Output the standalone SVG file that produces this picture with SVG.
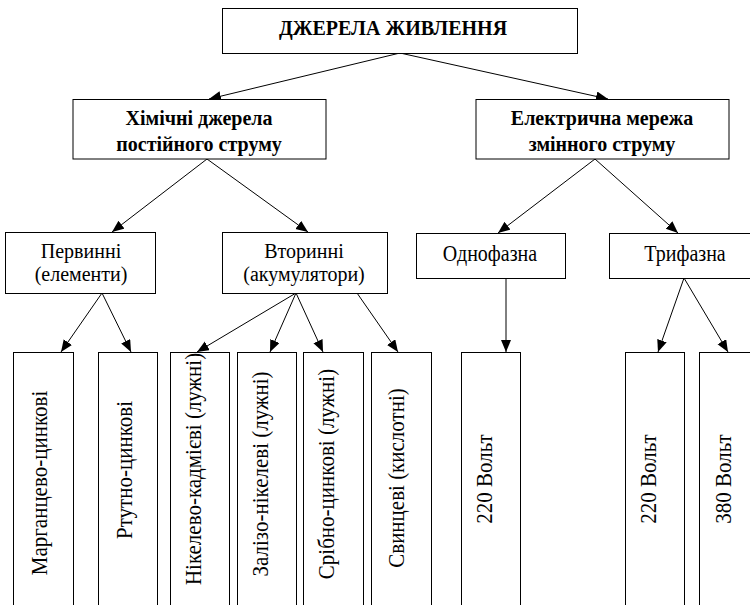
<svg xmlns="http://www.w3.org/2000/svg" width="750" height="605" viewBox="0 0 750 605">
<style>
.box{fill:#fff;stroke:#000;stroke-width:1}
.t{font-family:"Liberation Serif","Times New Roman",serif;font-size:20px;fill:#000;text-anchor:middle}
.r{font-size:21px}
.b{font-weight:bold;font-size:20px}
.c{stroke:#000;stroke-width:1;fill:none;marker-end:url(#ah)}
</style>
<defs>
<marker id="ah" markerUnits="userSpaceOnUse" markerWidth="13" markerHeight="11" refX="12" refY="5" orient="auto">
<path d="M0,0 L12,5 L0,10 z" fill="#000"/>
</marker>
</defs>
<rect width="750" height="605" fill="#fff"/>
<g id="connectors">
<line class="c" x1="400" y1="53" x2="209" y2="99"/>
<line class="c" x1="400" y1="53" x2="608" y2="99"/>
<line class="c" x1="207" y1="159" x2="112" y2="232"/>
<line class="c" x1="207" y1="159" x2="308" y2="232"/>
<line class="c" x1="595" y1="159" x2="498" y2="233"/>
<line class="c" x1="595" y1="159" x2="678" y2="233"/>
<line class="c" x1="102" y1="293" x2="61" y2="352"/>
<line class="c" x1="102" y1="293" x2="131" y2="352"/>
<line class="c" x1="296" y1="293" x2="197" y2="352"/>
<line class="c" x1="296" y1="293" x2="270" y2="352"/>
<line class="c" x1="296" y1="293" x2="323" y2="352"/>
<line class="c" x1="357" y1="293" x2="398" y2="352"/>
<line class="c" x1="506" y1="278" x2="506" y2="352"/>
<line class="c" x1="684" y1="278" x2="658" y2="352"/>
<line class="c" x1="684" y1="278" x2="728" y2="352"/>
</g>
<g id="root">
<rect class="box" x="222.5" y="8.5" width="355" height="45"/>
<text class="t b" transform="translate(393,35) scale(1,1.05)">ДЖЕРЕЛА ЖИВЛЕННЯ</text>
</g>
<g id="chem">
<rect class="box" x="73" y="99.5" width="253" height="59.5"/>
<text class="t b" transform="translate(199,125) scale(1,1.05)">Хімічні джерела</text>
<text class="t b" transform="translate(199,151) scale(1,1.05)">постійного струму</text>
</g>
<g id="grid">
<rect class="box" x="476" y="99.5" width="253" height="59.5"/>
<text class="t b" transform="translate(602,125) scale(1,1.05)">Електрична мережа</text>
<text class="t b" transform="translate(602,151) scale(1,1.05)">змінного струму</text>
</g>
<g id="primary">
<rect class="box" x="5.5" y="232.5" width="150" height="61"/>
<text class="t" x="81" y="257.5">Первинні</text>
<text class="t" x="81" y="280.5">(елементи)</text>
</g>
<g id="secondary">
<rect class="box" x="222.5" y="232.5" width="165" height="61"/>
<text class="t" x="304" y="257.5">Вторинні</text>
<text class="t" x="304" y="280.5">(акумулятори)</text>
</g>
<g id="single">
<rect class="box" x="416.5" y="233.5" width="149" height="45"/>
<text class="t" transform="translate(490,261) scale(1,1.13)">Однофазна</text>
</g>
<g id="three">
<rect class="box" x="609.5" y="233.5" width="160" height="45"/>
<text class="t" transform="translate(685,261) scale(1,1.13)">Трифазна</text>
</g>
<g id="mn">
<rect class="box" x="13.5" y="352.5" width="60" height="270"/>
<text class="t r" transform="translate(47,483) rotate(-90) scale(1,1.08)">Марганцево-цинкові</text>
</g>
<g id="hg">
<rect class="box" x="98.5" y="352.5" width="59" height="270"/>
<text class="t r" transform="translate(132,470) rotate(-90) scale(1,1.08)">Ртутно-цинкові</text>
</g>
<g id="nicd">
<rect class="box" x="170.5" y="352.5" width="59" height="270"/>
<text class="t r" transform="translate(201,469) rotate(-90) scale(1,1.08)">Нікелево-кадмієві (лужні)</text>
</g>
<g id="feni">
<rect class="box" x="237.5" y="352.5" width="59" height="270"/>
<text class="t r" transform="translate(268,474) rotate(-90) scale(1,1.08)">Залізо-нікелеві (лужні)</text>
</g>
<g id="agzn">
<rect class="box" x="303.5" y="352.5" width="60" height="270"/>
<text class="t r" transform="translate(334,474) rotate(-90) scale(1,1.08)">Срібно-цинкові (лужні)</text>
</g>
<g id="pb">
<rect class="box" x="371.5" y="352.5" width="60" height="270"/>
<text class="t r" transform="translate(404,478) rotate(-90) scale(1,1.08)">Свинцеві (кислотні)</text>
</g>
<g id="v220a">
<rect class="box" x="461.5" y="352.5" width="59" height="270"/>
<text class="t r" transform="translate(492,479) rotate(-90) scale(1,1.08)">220 Вольт</text>
</g>
<g id="v220b">
<rect class="box" x="625.5" y="352.5" width="59" height="270"/>
<text class="t r" transform="translate(656,479) rotate(-90) scale(1,1.08)">220 Вольт</text>
</g>
<g id="v380">
<rect class="box" x="699.5" y="352.5" width="60" height="270"/>
<text class="t r" transform="translate(731,479) rotate(-90) scale(1,1.08)">380 Вольт</text>
</g>
</svg>
